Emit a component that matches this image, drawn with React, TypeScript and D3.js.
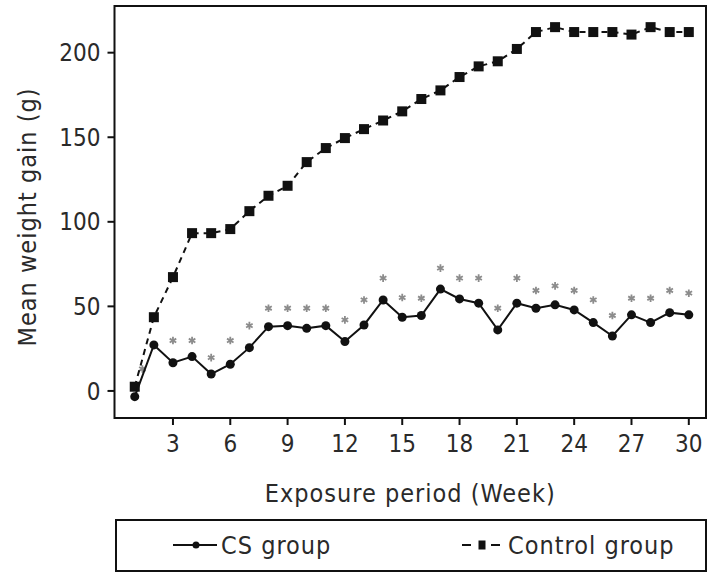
import React from "react";
import * as d3 from "d3";

const weeks = d3.range(1, 31);
const csGroup = [-3.4, 27.2, 16.7, 20.3, 10, 15.8, 25.6, 38, 38.6, 37, 38.6, 29.2, 39, 53.8, 43.6, 44.6, 60.2, 54.4, 51.9, 36.1, 51.9, 48.9, 50.9, 47.9, 40.4, 32.5, 45, 40.4, 46.3, 45];
const controlGroup = [2.5, 43.6, 67.3, 93.3, 93.3, 95.7, 106.3, 115.4, 121.3, 135.3, 143.6, 149.5, 154.8, 159.9, 165.3, 172.6, 177.7, 185.6, 191.9, 194.9, 202.2, 212.2, 215.1, 212.2, 212.2, 212.2, 210.7, 215.1, 212.2, 212.2];
const starWeeks = [1.4, 3, 4, 5, 6, 7, 8, 9, 10, 11, 12, 13, 14, 15, 16, 17, 18, 19, 20, 21, 22, 23, 24, 25, 26, 27, 28, 29, 30];
const starValues = [13, 29.8, 29.8, 19.7, 29.8, 38.6, 48.9, 48.9, 48.9, 48.9, 42, 53.8, 66.7, 55.2, 54.8, 72.6, 66.7, 66.7, 48.9, 66.7, 59.4, 62.1, 59.4, 53.8, 44.6, 54.8, 54.8, 59.4, 57.8];
const xTicks = [3, 6, 9, 12, 15, 18, 21, 24, 27, 30];
const yTicks = [0, 50, 100, 150, 200];
const seriesNames = ["CS group", "Control group"];
const xTitle = "Exposure period (Week)";
const yTitle = "Mean weight gain (g)";

const FONT = "'DejaVu Sans Condensed', 'DejaVu Sans', sans-serif";

export default function App() {
  const W = 715, H = 587;
  const left = 114.5, right = 706, top = 6, bottom = 418;
  const x = d3.scaleLinear().domain([-0.06, 30.9]).range([left, right]);
  const y = d3.scaleLinear().domain([-16, 227.6]).range([bottom, top]);

  const lineGen = d3.line<number>().x((_, i) => x(weeks[i])).y((d) => y(d));
  const star = d3.symbol(d3.symbolAsterisk, 40)()!;
  const textColor = "#2a2a2a";

  return (
    <svg width={W} height={H} style={{ position: "absolute", left: 0, top: 0, background: "#fff" }} fontFamily={FONT}>
      <rect x={0} y={0} width={W} height={H} fill="#fff" />
      {starWeeks.map((w, i) => (
        <path key={"s" + i} d={star} transform={`translate(${x(w)},${y(starValues[i])})`} fill="none" stroke="#8c8c8c" strokeWidth={1.8} />
      ))}
      <path d={lineGen(controlGroup)!} fill="none" stroke="#111" strokeWidth={2} strokeDasharray="6,5" />
      {controlGroup.map((v, i) => (
        <rect key={"c" + i} x={x(weeks[i]) - 5} y={y(v) - 5} width={10} height={10} fill="#111" />
      ))}
      <path d={lineGen(csGroup)!} fill="none" stroke="#111" strokeWidth={2} />
      {csGroup.map((v, i) => (
        <circle key={"p" + i} cx={x(weeks[i])} cy={y(v)} r={4.5} fill="#111" />
      ))}
      <rect x={left} y={top} width={right - left} height={bottom - top} fill="none" stroke="#111" strokeWidth={2} />
      {yTicks.map((t) => (
        <g key={"y" + t}>
          <line x1={left - 7} x2={left} y1={y(t)} y2={y(t)} stroke="#111" strokeWidth={2} />
          <text x={left - 14} y={y(t)} dy="0.36em" textAnchor="end" fontSize={24} fill={textColor}>{t}</text>
        </g>
      ))}
      {xTicks.map((t) => (
        <g key={"x" + t}>
          <line x1={x(t)} x2={x(t)} y1={bottom} y2={bottom + 7} stroke="#111" strokeWidth={2} />
          <text x={x(t)} y={452} textAnchor="middle" fontSize={24} fill={textColor}>{t}</text>
        </g>
      ))}
      <text x={(left + right) / 2} y={502} textAnchor="middle" fontSize={25} letterSpacing={1} fill={textColor}>{xTitle}</text>
      <text transform={`translate(36,217) rotate(-90)`} textAnchor="middle" fontSize={25} letterSpacing={1} fill={textColor}>{yTitle}</text>
      <rect x={116} y={520} width={590} height={51} fill="none" stroke="#111" strokeWidth={2} />
      <line x1={173} x2={217} y1={545} y2={545} stroke="#111" strokeWidth={2} />
      <circle cx={196} cy={545} r={3.5} fill="#111" />
      <text x={221} y={554} fontSize={25} letterSpacing={1} fill={textColor}>{seriesNames[0]}</text>
      <line x1={462} x2={501} y1={545} y2={545} stroke="#111" strokeWidth={2} strokeDasharray="9,20" />
      <rect x={478.5} y={540.5} width={7} height={9} fill="#111" />
      <text x={508} y={554} fontSize={25} letterSpacing={1} fill={textColor}>{seriesNames[1]}</text>
    </svg>
  );
}
